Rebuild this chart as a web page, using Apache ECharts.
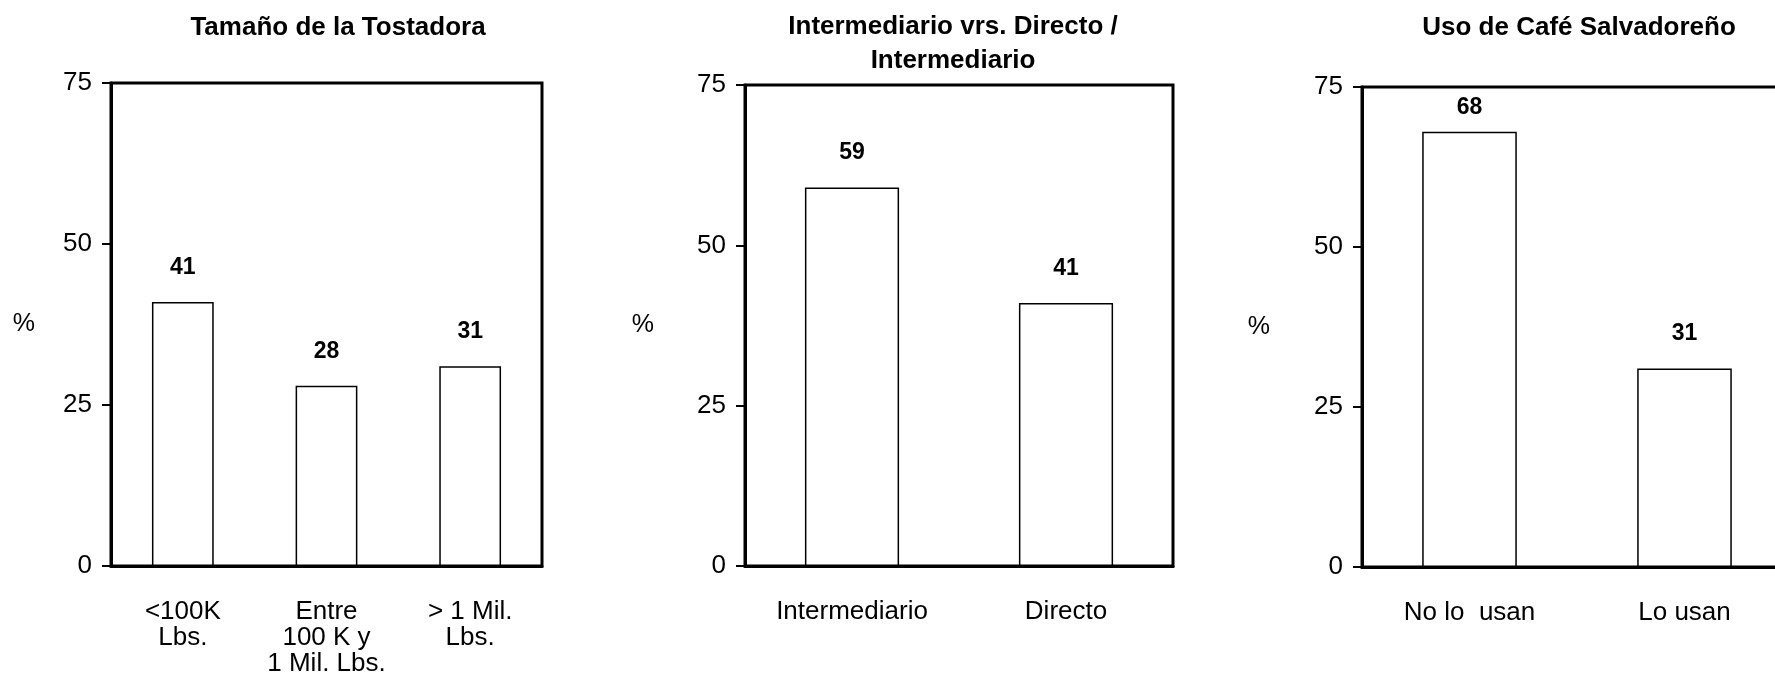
<!DOCTYPE html>
<html>
<head>
<meta charset="utf-8">
<script src="https://cdn.jsdelivr.net/npm/echarts@6/dist/echarts.min.js"></script>
<style>
  html, body { margin: 0; padding: 0; background: #fff; }
  #chart { width: 1775px; height: 684px; }
</style>
</head>
<body>
<div id="chart"></div>
<script>
// ---- Data ----
const titles = ['Tamaño de la Tostadora', 'Intermediario vrs. Directo /\nIntermediario', 'Uso de Café Salvadoreño'];
const cats1 = ['<100K\nLbs.', 'Entre\n100 K y\n1 Mil. Lbs.', '> 1 Mil.\nLbs.'];
const vals1 = [41, 28, 31];
const cats2 = ['Intermediario', 'Directo'];
const vals2 = [59, 41];
const cats3 = ['No lo  usan', 'Lo usan'];
const vals3 = [68, 31];
const yTicks = [0, 25, 50, 75];
const yName = '%';

// ---- Styling / layout ----
const FONT = "'Liberation Sans', Arial, Helvetica, sans-serif";
const grids = [
  { left: 111, top: 83, width: 431, height: 483 },
  { left: 745, top: 85, width: 428, height: 481 },
  { left: 1362, top: 87, width: 430, height: 480 }
];
const nameGaps = [76, 91, 92];
const barWidths = ['43%', '44%', '44%'];
const titlePos = [
  { left: 338, top: 11 },
  { left: 953, top: 10 },
  { left: 1579, top: 11 }
];
const allCats = [cats1, cats2, cats3];
const allVals = [vals1, vals2, vals3];

const chart = echarts.init(document.getElementById('chart'), null, { renderer: 'canvas' });

const option = {
  backgroundColor: '#ffffff',
  animation: false,
  title: titles.map((t, i) => ({
    text: t,
    left: titlePos[i].left,
    top: titlePos[i].top,
    textAlign: 'center',
    padding: 0,
    textStyle: { fontFamily: FONT, fontSize: 26, fontWeight: 'bold', color: '#000', lineHeight: 34 }
  })),
  grid: grids.map(g => Object.assign({
    show: true, borderColor: '#000', borderWidth: 3, backgroundColor: 'transparent',
    containLabel: false, outerBoundsMode: 'none'
  }, g)),
  xAxis: allCats.map((c, i) => ({
    type: 'category',
    gridIndex: i,
    data: c,
    axisLine: { show: true, lineStyle: { color: '#000', width: 3 } },
    axisTick: { show: false },
    splitLine: { show: false },
    axisLabel: {
      interval: 0, margin: 33, color: '#000', fontFamily: FONT, fontSize: 26, lineHeight: 26
    }
  })),
  yAxis: allCats.map((c, i) => ({
    type: 'value',
    gridIndex: i,
    min: yTicks[0],
    max: yTicks[yTicks.length - 1],
    interval: yTicks[1] - yTicks[0],
    name: yName,
    nameLocation: 'middle',
    nameRotate: 0,
    nameGap: nameGaps[i],
    nameTextStyle: { fontFamily: FONT, fontSize: 25, color: '#000' },
    axisLine: { show: true, lineStyle: { color: '#000', width: 3 } },
    axisTick: { show: true, inside: false, length: 9, lineStyle: { color: '#000', width: 2 } },
    splitLine: { show: false },
    axisLabel: { margin: 19, color: '#000', fontFamily: FONT, fontSize: 26 }
  })),
  series: allVals.map((v, i) => ({
    type: 'bar',
    xAxisIndex: i,
    yAxisIndex: i,
    barWidth: barWidths[i],
    data: v.map(val => ({
      value: val,
      label: { distance: val > 62 ? 13 : 23 }
    })),
    itemStyle: { color: '#ffffff', borderColor: '#000', borderWidth: 1.5 },
    label: {
      show: true, position: 'top', color: '#000', fontFamily: FONT,
      fontSize: 23, fontWeight: 'bold'
    }
  }))
};

chart.setOption(option);
</script>
</body>
</html>
